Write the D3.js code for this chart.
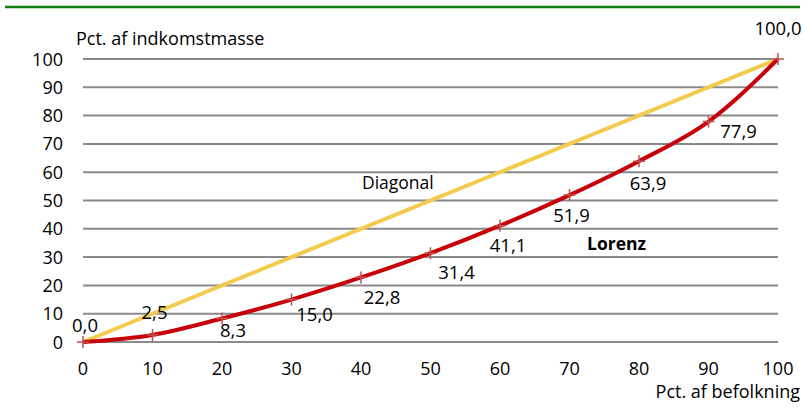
<!DOCTYPE html>
<html>
<head>
<meta charset="utf-8">
<script src="https://cdn.jsdelivr.net/npm/d3@7"></script>
<style>
  body { margin: 0; background: #fff; }
  text { font-family: "Open Sans", "Noto Sans", sans-serif; fill: #000; }
</style>
</head>
<body>
<div id="chart"></div>
<script>
// data
const pop_pct = [0, 10, 20, 30, 40, 50, 60, 70, 80, 90, 100];
const lorenz_vals = [0.0, 2.5, 8.3, 15.0, 22.8, 31.4, 41.1, 51.9, 63.9, 77.9, 100.0];
const diagonal_vals = [0, 100];
const diagonal_x = [0, 100];
const x_ticks = [0, 10, 20, 30, 40, 50, 60, 70, 80, 90, 100];
const y_ticks = [0, 10, 20, 30, 40, 50, 60, 70, 80, 90, 100];

// label nudges (px) for each Lorenz point label
const label_dx = [2, 2, 11, 23, 21, 26, 8, 2, 9, 30, 0];
const label_dy = [-10, -16, 18, 21, 27, 26, 26, 27, 29, 16, -24];

const W = 805, H = 419;
const fmt = v => d3.format(".1f")(v).replace(".", ",");

const svg = d3.select("#chart").append("svg")
  .attr("width", W)
  .attr("height", H);

// green rule on top
svg.append("line")
  .attr("x1", 5).attr("x2", 800)
  .attr("y1", 7).attr("y2", 7)
  .attr("stroke", "#0f7f0f")
  .attr("stroke-width", 2.5);

const x = d3.scaleLinear().domain([0, 100]).range([83, 778]);
const y = d3.scaleLinear().domain([0, 100]).range([342, 59]);

// gridlines
svg.append("g")
  .selectAll("line")
  .data(y_ticks)
  .join("line")
  .attr("x1", x(0))
  .attr("x2", x(100))
  .attr("y1", d => y(d))
  .attr("y2", d => y(d))
  .attr("stroke", "#8a8a8a")
  .attr("stroke-width", 2);

// y tick labels
svg.append("g")
  .selectAll("text")
  .data(y_ticks)
  .join("text")
  .attr("x", 63)
  .attr("y", d => y(d) + 6.5)
  .attr("text-anchor", "end")
  .attr("font-size", "18px")
  .text(d => d);

// x tick labels
svg.append("g")
  .selectAll("text")
  .data(x_ticks)
  .join("text")
  .attr("x", d => x(d))
  .attr("y", 375)
  .attr("text-anchor", "middle")
  .attr("font-size", "18px")
  .text(d => d);

// axis titles
svg.append("text")
  .attr("x", 76).attr("y", 45)
  .attr("font-size", "18px")
  .text("Pct. af indkomstmasse");

svg.append("text")
  .attr("x", 800).attr("y", 398)
  .attr("text-anchor", "end")
  .attr("font-size", "18px")
  .text("Pct. af befolkning");

// diagonal
svg.append("path")
  .datum(diagonal_x.map((d, i) => [d, diagonal_vals[i]]))
  .attr("d", d3.line().x(d => x(d[0])).y(d => y(d[1])))
  .attr("fill", "none")
  .attr("stroke", "#f2cb4f")
  .attr("stroke-width", 4);

// lorenz curve
const lorenz = pop_pct.map((d, i) => ({ p: d, v: lorenz_vals[i], i }));

svg.append("path")
  .datum(lorenz)
  .attr("d", d3.line().curve(d3.curveMonotoneX).x(d => x(d.p)).y(d => y(d.v)))
  .attr("fill", "none")
  .attr("stroke", "#c8000a")
  .attr("stroke-width", 4);

// plus markers
const m = 6;
svg.append("g")
  .selectAll("path")
  .data(lorenz)
  .join("path")
  .attr("d", d => {
    const cx = x(d.p), cy = y(d.v);
    return `M${cx - m},${cy}H${cx + m}M${cx},${cy - m}V${cy + m}`;
  })
  .attr("stroke", "#c0504d")
  .attr("stroke-width", 1.5);

// point labels
svg.append("g")
  .selectAll("text")
  .data(lorenz)
  .join("text")
  .attr("x", d => x(d.p) + label_dx[d.i])
  .attr("y", d => y(d.v) + label_dy[d.i])
  .attr("text-anchor", "middle")
  .attr("font-size", "18.5px")
  .text(d => fmt(d.v));

// series labels
svg.append("text")
  .attr("x", 362).attr("y", 189)
  .attr("font-size", "17.5px")
  .text("Diagonal");

svg.append("text")
  .attr("x", 587).attr("y", 250)
  .attr("font-size", "17.5px")
  .attr("font-weight", "bold")
  .text("Lorenz");
</script>
</body>
</html>
